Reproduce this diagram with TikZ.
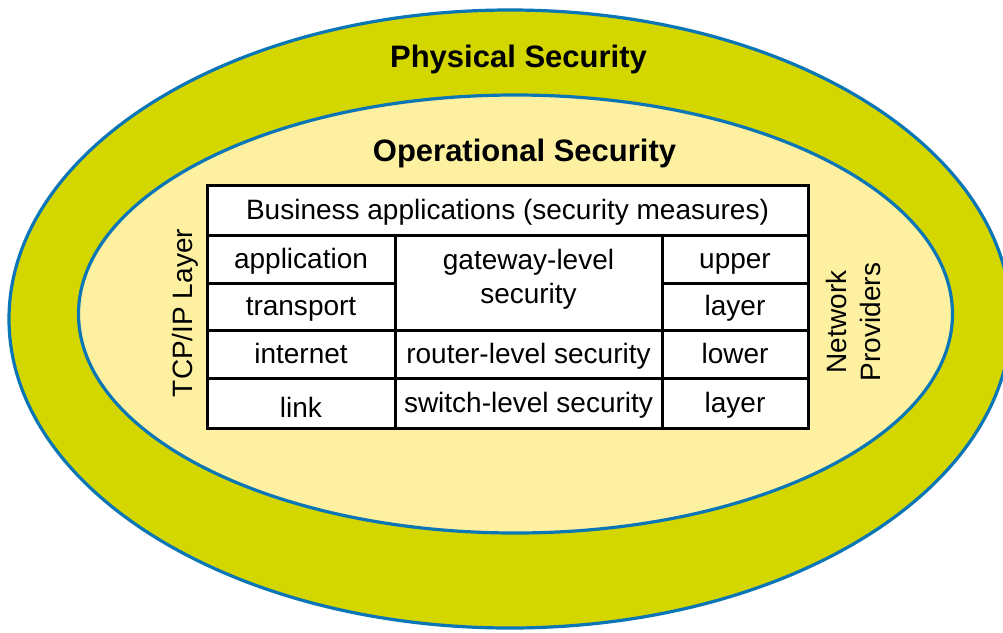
\documentclass[tikz,border=0pt]{standalone}
\usepackage{fontspec}
\setmainfont{Liberation Sans}
\definecolor{outerfill}{RGB}{212,214,0}
\definecolor{innerfill}{RGB}{253,240,160}
\definecolor{ringblue}{RGB}{10,118,182}
\begin{document}
\begin{tikzpicture}[x=1pt,y=-1pt,
  ring/.style={draw=ringblue,line width=3.2pt},
  cell/.style={draw=black,line width=3pt,fill=white,inner sep=0pt,outer sep=0pt,
    anchor=north west,font=\fontsize{28}{34}\selectfont,text height=22pt,text depth=4pt,align=center},
  title/.style={font=\fontsize{31}{37}\selectfont\bfseries,anchor=base,inner sep=0pt},
  side/.style={font=\fontsize{28}{34}\selectfont,rotate=90,align=center,inner sep=0pt}
]
\useasboundingbox (0,0) rectangle (1003,632);
\clip (0,0) rectangle (1003,632);
\fill[white] (0,0) rectangle (1003,632);
% rings
\path[ring,fill=outerfill] (510,319) ellipse [x radius=501, y radius=309];
\path[ring,fill=innerfill] (515.5,314) ellipse [x radius=437, y radius=219];
% titles
\node[title] (phys) at (518.5,67) {Physical Security};
\node[title] (oper) at (524.5,161) {Operational Security};
% table
\node[cell,minimum width=601pt,minimum height=50pt] (biz) at (207,185) {Business applications (security measures)};
\node[cell,minimum width=188pt,minimum height=48pt] (app) at (207,235) {application};
\node[cell,minimum width=188pt,minimum height=47pt] (trn) at (207,283) {transport};
\node[cell,minimum width=188pt,minimum height=48pt] (inet) at (207,330) {internet};
\node[cell,minimum width=188pt,minimum height=50pt,text height=28pt,text depth=0pt] (link) at (207,378) {link};
\node[cell,minimum width=267pt,minimum height=95pt,text height=55pt,text depth=14pt] (gw) at (395,235) {gateway-level\\security};
\node[cell,minimum width=267pt,minimum height=48pt] (rtr) at (395,330) {router-level security};
\node[cell,minimum width=267pt,minimum height=50pt] (sw) at (395,378) {switch-level security};
\node[cell,minimum width=146pt,minimum height=48pt] (up) at (662,235) {upper};
\node[cell,minimum width=146pt,minimum height=47pt] (lay1) at (662,283) {layer};
\node[cell,minimum width=146pt,minimum height=48pt] (low) at (662,330) {lower};
\node[cell,minimum width=146pt,minimum height=50pt] (lay2) at (662,378) {layer};
% side labels
\node[side] (tcp) at (185,313) {TCP/IP Layer};
\node[side] (net) at (853,322) {Network\\Providers};
\end{tikzpicture}
\end{document}
